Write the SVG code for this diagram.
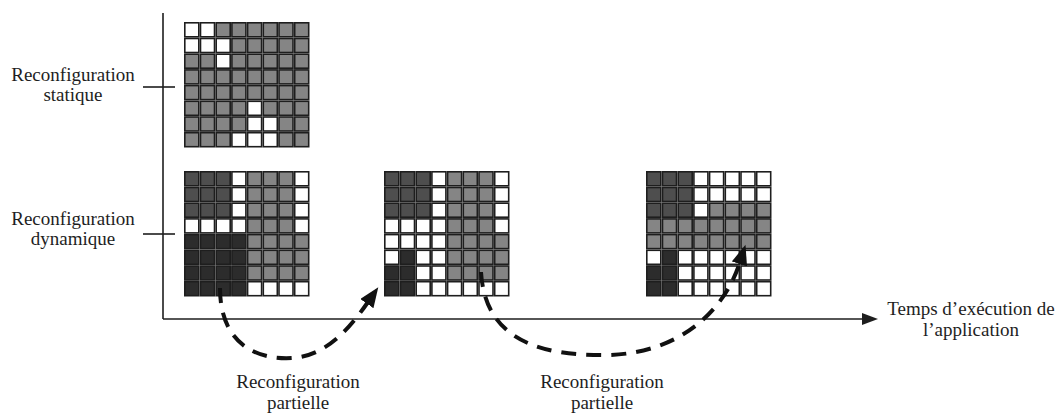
<svg xmlns="http://www.w3.org/2000/svg" xmlns:xlink="http://www.w3.org/1999/xlink" width="1064" height="418" viewBox="0 0 1064 418">
<style>
  .cell rect { width: 14px; height: 14px; stroke: #1e1e1e; stroke-width: 1.6; }
  .w { fill: #ffffff; }
  .g { fill: #858585; }
  .d { fill: #4e4e4e; }
  .b { fill: #2c2c2c; }
  .lbl { font-family: "Liberation Serif", "DejaVu Serif", serif; font-size: 19px; fill: #1e1e1e; text-anchor: middle; }
  .axis { stroke: #1e1e1e; stroke-width: 1.6; fill: none; }
  .arc { stroke: #111; stroke-width: 4; fill: none; stroke-dasharray: 15 10; }
</style>
<defs>
  <marker id="head" markerUnits="userSpaceOnUse" markerWidth="22" markerHeight="18" refX="2" refY="8" orient="auto">
    <path d="M0,0 L20,8 L0,16 Z" fill="#111"/>
  </marker>
  <marker id="axhead" markerUnits="userSpaceOnUse" markerWidth="18" markerHeight="14" refX="0" refY="6" orient="auto">
    <path d="M0,0 L16,6 L0,12 Z" fill="#1e1e1e"/>
  </marker>
</defs>

<g id="axes">
  <line class="axis" x1="163" y1="13" x2="163" y2="319"/>
  <line class="axis" x1="163" y1="319" x2="862" y2="319" marker-end="url(#axhead)"/>
  <line class="axis" x1="143" y1="87" x2="175" y2="87"/>
  <line class="axis" x1="143" y1="234" x2="175" y2="234"/>
</g>

<g id="label-statique">
  <text class="lbl" x="73" y="81">Reconfiguration</text>
  <text class="lbl" x="73" y="101">statique</text>
</g>
<g id="label-dynamique">
  <text class="lbl" x="73" y="225">Reconfiguration</text>
  <text class="lbl" x="73" y="245">dynamique</text>
</g>
<g id="label-temps">
  <text class="lbl" x="971" y="315">Temps d’exécution de</text>
  <text class="lbl" x="971" y="336">l’application</text>
</g>

<g id="grid-statique" class="cell" transform="translate(184,22)">
  <rect class="w" x="0.8" y="0.8"/><rect class="w" x="16.5" y="0.8"/><rect class="g" x="32.2" y="0.8"/><rect class="g" x="47.9" y="0.8"/><rect class="g" x="63.6" y="0.8"/><rect class="g" x="79.3" y="0.8"/><rect class="g" x="95" y="0.8"/><rect class="g" x="110.7" y="0.8"/>
  <rect class="w" x="0.8" y="16.5"/><rect class="w" x="16.5" y="16.5"/><rect class="w" x="32.2" y="16.5"/><rect class="g" x="47.9" y="16.5"/><rect class="g" x="63.6" y="16.5"/><rect class="g" x="79.3" y="16.5"/><rect class="g" x="95" y="16.5"/><rect class="g" x="110.7" y="16.5"/>
  <rect class="g" x="0.8" y="32.2"/><rect class="g" x="16.5" y="32.2"/><rect class="w" x="32.2" y="32.2"/><rect class="g" x="47.9" y="32.2"/><rect class="g" x="63.6" y="32.2"/><rect class="g" x="79.3" y="32.2"/><rect class="g" x="95" y="32.2"/><rect class="g" x="110.7" y="32.2"/>
  <rect class="g" x="0.8" y="47.9"/><rect class="g" x="16.5" y="47.9"/><rect class="g" x="32.2" y="47.9"/><rect class="g" x="47.9" y="47.9"/><rect class="g" x="63.6" y="47.9"/><rect class="g" x="79.3" y="47.9"/><rect class="g" x="95" y="47.9"/><rect class="g" x="110.7" y="47.9"/>
  <rect class="g" x="0.8" y="63.6"/><rect class="g" x="16.5" y="63.6"/><rect class="g" x="32.2" y="63.6"/><rect class="g" x="47.9" y="63.6"/><rect class="g" x="63.6" y="63.6"/><rect class="g" x="79.3" y="63.6"/><rect class="g" x="95" y="63.6"/><rect class="g" x="110.7" y="63.6"/>
  <rect class="g" x="0.8" y="79.3"/><rect class="g" x="16.5" y="79.3"/><rect class="g" x="32.2" y="79.3"/><rect class="g" x="47.9" y="79.3"/><rect class="w" x="63.6" y="79.3"/><rect class="g" x="79.3" y="79.3"/><rect class="g" x="95" y="79.3"/><rect class="g" x="110.7" y="79.3"/>
  <rect class="g" x="0.8" y="95"/><rect class="g" x="16.5" y="95"/><rect class="g" x="32.2" y="95"/><rect class="g" x="47.9" y="95"/><rect class="w" x="63.6" y="95"/><rect class="w" x="79.3" y="95"/><rect class="g" x="95" y="95"/><rect class="g" x="110.7" y="95"/>
  <rect class="g" x="0.8" y="110.7"/><rect class="g" x="16.5" y="110.7"/><rect class="g" x="32.2" y="110.7"/><rect class="w" x="47.9" y="110.7"/><rect class="w" x="63.6" y="110.7"/><rect class="w" x="79.3" y="110.7"/><rect class="g" x="95" y="110.7"/><rect class="g" x="110.7" y="110.7"/>
</g>

<g id="grid-dynamique-1" class="cell" transform="translate(184,171)">
  <rect class="d" x="0.8" y="0.8"/><rect class="d" x="16.5" y="0.8"/><rect class="d" x="32.2" y="0.8"/><rect class="w" x="47.9" y="0.8"/><rect class="g" x="63.6" y="0.8"/><rect class="g" x="79.3" y="0.8"/><rect class="g" x="95" y="0.8"/><rect class="w" x="110.7" y="0.8"/>
  <rect class="d" x="0.8" y="16.5"/><rect class="d" x="16.5" y="16.5"/><rect class="d" x="32.2" y="16.5"/><rect class="w" x="47.9" y="16.5"/><rect class="g" x="63.6" y="16.5"/><rect class="g" x="79.3" y="16.5"/><rect class="g" x="95" y="16.5"/><rect class="w" x="110.7" y="16.5"/>
  <rect class="d" x="0.8" y="32.2"/><rect class="d" x="16.5" y="32.2"/><rect class="d" x="32.2" y="32.2"/><rect class="w" x="47.9" y="32.2"/><rect class="g" x="63.6" y="32.2"/><rect class="g" x="79.3" y="32.2"/><rect class="g" x="95" y="32.2"/><rect class="w" x="110.7" y="32.2"/>
  <rect class="w" x="0.8" y="47.9"/><rect class="w" x="16.5" y="47.9"/><rect class="w" x="32.2" y="47.9"/><rect class="w" x="47.9" y="47.9"/><rect class="g" x="63.6" y="47.9"/><rect class="g" x="79.3" y="47.9"/><rect class="g" x="95" y="47.9"/><rect class="w" x="110.7" y="47.9"/>
  <rect class="b" x="0.8" y="63.6"/><rect class="b" x="16.5" y="63.6"/><rect class="b" x="32.2" y="63.6"/><rect class="b" x="47.9" y="63.6"/><rect class="g" x="63.6" y="63.6"/><rect class="g" x="79.3" y="63.6"/><rect class="g" x="95" y="63.6"/><rect class="g" x="110.7" y="63.6"/>
  <rect class="b" x="0.8" y="79.3"/><rect class="b" x="16.5" y="79.3"/><rect class="b" x="32.2" y="79.3"/><rect class="b" x="47.9" y="79.3"/><rect class="g" x="63.6" y="79.3"/><rect class="g" x="79.3" y="79.3"/><rect class="g" x="95" y="79.3"/><rect class="g" x="110.7" y="79.3"/>
  <rect class="b" x="0.8" y="95"/><rect class="b" x="16.5" y="95"/><rect class="b" x="32.2" y="95"/><rect class="b" x="47.9" y="95"/><rect class="g" x="63.6" y="95"/><rect class="g" x="79.3" y="95"/><rect class="g" x="95" y="95"/><rect class="g" x="110.7" y="95"/>
  <rect class="b" x="0.8" y="110.7"/><rect class="b" x="16.5" y="110.7"/><rect class="b" x="32.2" y="110.7"/><rect class="b" x="47.9" y="110.7"/><rect class="w" x="63.6" y="110.7"/><rect class="w" x="79.3" y="110.7"/><rect class="w" x="95" y="110.7"/><rect class="w" x="110.7" y="110.7"/>
</g>

<g id="grid-dynamique-2" class="cell" transform="translate(384,171)">
  <rect class="d" x="0.8" y="0.8"/><rect class="d" x="16.5" y="0.8"/><rect class="d" x="32.2" y="0.8"/><rect class="w" x="47.9" y="0.8"/><rect class="g" x="63.6" y="0.8"/><rect class="g" x="79.3" y="0.8"/><rect class="g" x="95" y="0.8"/><rect class="w" x="110.7" y="0.8"/>
  <rect class="d" x="0.8" y="16.5"/><rect class="d" x="16.5" y="16.5"/><rect class="d" x="32.2" y="16.5"/><rect class="w" x="47.9" y="16.5"/><rect class="g" x="63.6" y="16.5"/><rect class="g" x="79.3" y="16.5"/><rect class="g" x="95" y="16.5"/><rect class="w" x="110.7" y="16.5"/>
  <rect class="d" x="0.8" y="32.2"/><rect class="d" x="16.5" y="32.2"/><rect class="d" x="32.2" y="32.2"/><rect class="w" x="47.9" y="32.2"/><rect class="g" x="63.6" y="32.2"/><rect class="g" x="79.3" y="32.2"/><rect class="g" x="95" y="32.2"/><rect class="w" x="110.7" y="32.2"/>
  <rect class="w" x="0.8" y="47.9"/><rect class="w" x="16.5" y="47.9"/><rect class="w" x="32.2" y="47.9"/><rect class="w" x="47.9" y="47.9"/><rect class="g" x="63.6" y="47.9"/><rect class="g" x="79.3" y="47.9"/><rect class="g" x="95" y="47.9"/><rect class="w" x="110.7" y="47.9"/>
  <rect class="w" x="0.8" y="63.6"/><rect class="w" x="16.5" y="63.6"/><rect class="w" x="32.2" y="63.6"/><rect class="w" x="47.9" y="63.6"/><rect class="g" x="63.6" y="63.6"/><rect class="g" x="79.3" y="63.6"/><rect class="g" x="95" y="63.6"/><rect class="g" x="110.7" y="63.6"/>
  <rect class="w" x="0.8" y="79.3"/><rect class="b" x="16.5" y="79.3"/><rect class="w" x="32.2" y="79.3"/><rect class="w" x="47.9" y="79.3"/><rect class="g" x="63.6" y="79.3"/><rect class="g" x="79.3" y="79.3"/><rect class="g" x="95" y="79.3"/><rect class="g" x="110.7" y="79.3"/>
  <rect class="b" x="0.8" y="95"/><rect class="b" x="16.5" y="95"/><rect class="w" x="32.2" y="95"/><rect class="w" x="47.9" y="95"/><rect class="g" x="63.6" y="95"/><rect class="g" x="79.3" y="95"/><rect class="g" x="95" y="95"/><rect class="g" x="110.7" y="95"/>
  <rect class="b" x="0.8" y="110.7"/><rect class="b" x="16.5" y="110.7"/><rect class="w" x="32.2" y="110.7"/><rect class="w" x="47.9" y="110.7"/><rect class="w" x="63.6" y="110.7"/><rect class="w" x="79.3" y="110.7"/><rect class="w" x="95" y="110.7"/><rect class="w" x="110.7" y="110.7"/>
</g>

<g id="grid-dynamique-3" class="cell" transform="translate(646,171)">
  <rect class="d" x="0.8" y="0.8"/><rect class="d" x="16.5" y="0.8"/><rect class="d" x="32.2" y="0.8"/><rect class="w" x="47.9" y="0.8"/><rect class="w" x="63.6" y="0.8"/><rect class="w" x="79.3" y="0.8"/><rect class="w" x="95" y="0.8"/><rect class="w" x="110.7" y="0.8"/>
  <rect class="d" x="0.8" y="16.5"/><rect class="d" x="16.5" y="16.5"/><rect class="d" x="32.2" y="16.5"/><rect class="w" x="47.9" y="16.5"/><rect class="w" x="63.6" y="16.5"/><rect class="w" x="79.3" y="16.5"/><rect class="w" x="95" y="16.5"/><rect class="w" x="110.7" y="16.5"/>
  <rect class="d" x="0.8" y="32.2"/><rect class="d" x="16.5" y="32.2"/><rect class="d" x="32.2" y="32.2"/><rect class="w" x="47.9" y="32.2"/><rect class="g" x="63.6" y="32.2"/><rect class="g" x="79.3" y="32.2"/><rect class="g" x="95" y="32.2"/><rect class="g" x="110.7" y="32.2"/>
  <rect class="g" x="0.8" y="47.9"/><rect class="g" x="16.5" y="47.9"/><rect class="g" x="32.2" y="47.9"/><rect class="g" x="47.9" y="47.9"/><rect class="g" x="63.6" y="47.9"/><rect class="g" x="79.3" y="47.9"/><rect class="g" x="95" y="47.9"/><rect class="g" x="110.7" y="47.9"/>
  <rect class="g" x="0.8" y="63.6"/><rect class="g" x="16.5" y="63.6"/><rect class="g" x="32.2" y="63.6"/><rect class="g" x="47.9" y="63.6"/><rect class="g" x="63.6" y="63.6"/><rect class="g" x="79.3" y="63.6"/><rect class="g" x="95" y="63.6"/><rect class="g" x="110.7" y="63.6"/>
  <rect class="w" x="0.8" y="79.3"/><rect class="b" x="16.5" y="79.3"/><rect class="w" x="32.2" y="79.3"/><rect class="w" x="47.9" y="79.3"/><rect class="w" x="63.6" y="79.3"/><rect class="w" x="79.3" y="79.3"/><rect class="w" x="95" y="79.3"/><rect class="w" x="110.7" y="79.3"/>
  <rect class="b" x="0.8" y="95"/><rect class="b" x="16.5" y="95"/><rect class="w" x="32.2" y="95"/><rect class="w" x="47.9" y="95"/><rect class="w" x="63.6" y="95"/><rect class="w" x="79.3" y="95"/><rect class="w" x="95" y="95"/><rect class="w" x="110.7" y="95"/>
  <rect class="b" x="0.8" y="110.7"/><rect class="b" x="16.5" y="110.7"/><rect class="w" x="32.2" y="110.7"/><rect class="w" x="47.9" y="110.7"/><rect class="w" x="63.6" y="110.7"/><rect class="w" x="79.3" y="110.7"/><rect class="w" x="95" y="110.7"/><rect class="w" x="110.7" y="110.7"/>
</g>

<g id="connectors">
  <path class="arc" d="M220,288 C220,345 258,360 292,358 C328,356 352,325 368,302" marker-end="url(#head)"/>
  <path class="arc" d="M481,272 C485,340 540,356 607,355 C672,354 722,318 740,262" marker-end="url(#head)"/>
</g>

<g id="label-partielle-1">
  <text class="lbl" x="298" y="388">Reconfiguration</text>
  <text class="lbl" x="298" y="409">partielle</text>
</g>
<g id="label-partielle-2">
  <text class="lbl" x="602" y="388">Reconfiguration</text>
  <text class="lbl" x="602" y="409">partielle</text>
</g>
</svg>
